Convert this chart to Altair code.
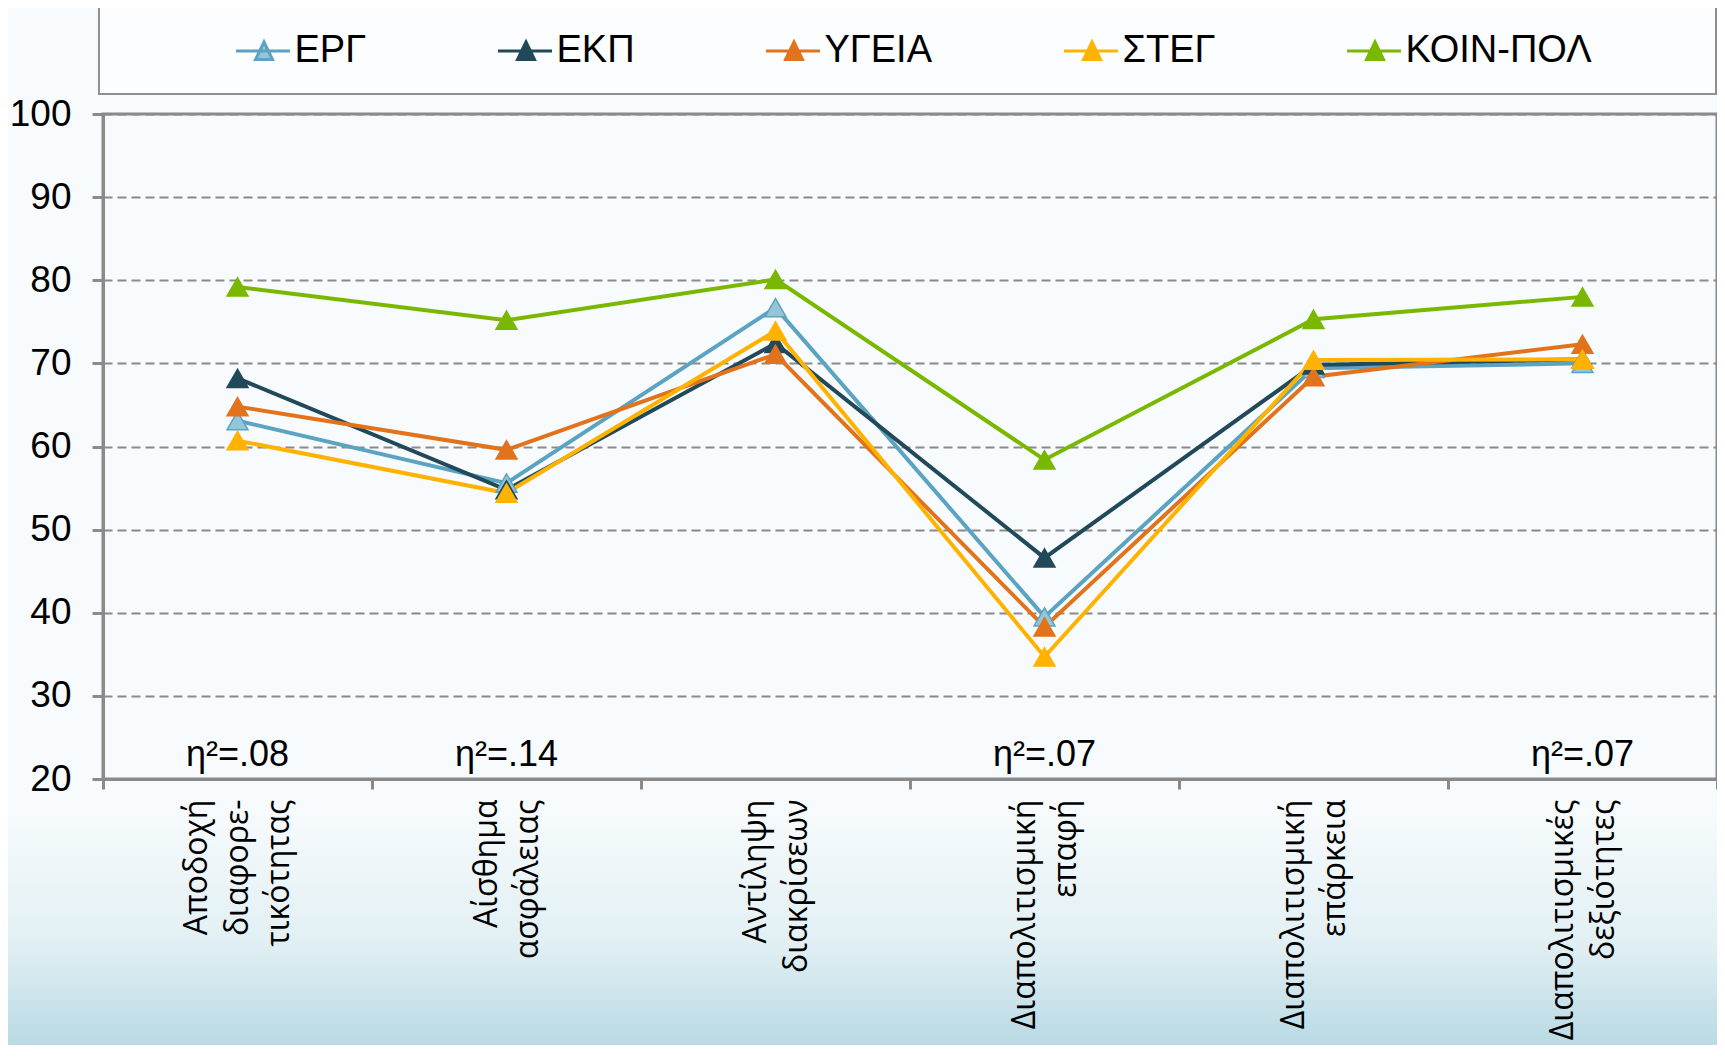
import altair as alt
import pandas as pd

categories = [
    "Αποδοχή\nδιαφορε-\nτικότητας",
    "Αίσθημα\nασφάλειας",
    "Αντίληψη\nδιακρίσεων",
    "Διαπολιτισμική\nεπαφή",
    "Διαπολιτισμική\nεπάρκεια",
    "Διαπολιτισμικές\nδεξιότητες",
]
series = ["ΕΡΓ", "ΕΚΠ", "ΥΓΕΙΑ", "ΣΤΕΓ", "ΚΟΙΝ-ΠΟΛ"]
erg = [63.1, 55.6, 76.7, 39.5, 69.4, 70.0]
ekp = [68.2, 54.8, 72.4, 46.6, 69.8, 70.5]
ygeia = [64.8, 59.6, 71.1, 38.3, 68.4, 72.3]
steg = [60.7, 54.4, 73.9, 34.7, 70.4, 70.5]
koin = [79.2, 75.2, 80.1, 58.4, 75.3, 78.0]
ann_cats = [categories[0], categories[1], categories[3], categories[5]]
ann_texts = ["η²=.08", "η²=.14", "η²=.07", "η²=.07"]
y_ticks = [20, 30, 40, 50, 60, 70, 80, 90, 100]

line_colors = ["#5BA3C1", "#22495A", "#E2731C", "#FFB300", "#7AB800"]
marker_fills = ["#97C5D8", "#22495A", "#E2731C", "#FFB300", "#7AB800"]

rows = []
for s, vals in zip(series, [erg, ekp, ygeia, steg, koin]):
    for c, v in zip(categories, vals):
        rows.append({"cat": c, "series": s, "value": v})
df = pd.DataFrame(rows)
ann = pd.DataFrame({"cat": ann_cats, "text": ann_texts})
one = pd.DataFrame({"k": [0]})

GRAY = "#8a8a8a"
W, H = 1614, 665
LH = 41

x_enc = alt.X(
    "cat:N",
    sort=categories,
    scale=alt.Scale(type="band", domain=categories, paddingInner=0, paddingOuter=0),
    axis=alt.Axis(
        title=None,
        labelAngle=270,
        labelAlign="right",
        labelBaseline={
            "condition": {
                "test": "length(split(datum.value, '\\n')) > 2",
                "value": "line-bottom",
            },
            "value": "middle",
        },
        labelOffset=-LH / 2,
        labelFont="Open Sans",
        labelFontSize=32,
        labelLineHeight=LH,
        labelPadding=10,
        labelLimit=700,
        labelOverlap=False,
        labelColor="black",
        labelExpr="split(datum.label, '\\n')",
        tickBand="extent",
        tickSize=10,
        tickWidth=3,
        tickColor=GRAY,
        domainColor=GRAY,
        domainWidth=3,
        grid=False,
        zindex=1,
    ),
)
y_enc = alt.Y(
    "value:Q",
    scale=alt.Scale(domain=[20, 100], nice=False, zero=False),
    axis=alt.Axis(
        title=None,
        values=y_ticks,
        labelFont="Liberation Sans",
        labelFontSize=37,
        labelPadding=21,
        labelColor="black",
        tickSize=11,
        tickWidth=3,
        tickColor=GRAY,
        domainColor=GRAY,
        domainWidth=3,
        grid=True,
        gridDash=[9, 5],
        gridColor=GRAY,
        gridWidth=2,
    ),
)

legend_path = "M-2.8,0H2.6M0,-0.9L0.85,0.85H-0.85Z"

bg = alt.Chart(one).mark_rect(
    fill=alt.LinearGradient(
        gradient="linear",
        stops=[
            alt.GradientStop(color="#F8FBFD", offset=0),
            alt.GradientStop(color="#E2F0F4", offset=0.55),
            alt.GradientStop(color="#B6D8E3", offset=1),
        ],
        x1=0, x2=0, y1=0, y2=1,
    )
).encode(x=alt.value(-95), x2=alt.value(W), y=alt.value(H + 22), y2=alt.value(H + 275))

legend_box = alt.Chart(one).mark_rect(
    fill="#FBFDFE", stroke="#8f8f8f", strokeWidth=2
).encode(x=alt.value(-4), x2=alt.value(W - 1), y=alt.value(-108), y2=alt.value(-20))

lines = alt.Chart(df).mark_line(strokeWidth=4).encode(
    x=x_enc,
    y=y_enc,
    color=alt.Color(
        "series:N",
        sort=series,
        scale=alt.Scale(domain=series, range=line_colors),
        legend=alt.Legend(
            title=None,
            orient="none",
            legendX=142,
            legendY=-82,
            direction="horizontal",
            columns=5,
            padding=0,
            symbolType=legend_path,
            symbolSize=400,
            symbolStrokeWidth=3,
            labelFont="Liberation Sans",
            labelFontSize=38,
            labelColor="black",
            labelOffset=11.5,
            labelLimit=400,
            columnPadding=125,
        ),
    ),
    detail="series:N",
)

points = alt.Chart(df).mark_point(
    shape="triangle-up", filled=True, size=440, strokeWidth=1.5, opacity=1
).encode(
    x=x_enc,
    y=y_enc,
    fill=alt.Fill("series:N", scale=alt.Scale(domain=series, range=marker_fills), legend=None),
    stroke=alt.Stroke("series:N", scale=alt.Scale(domain=series, range=line_colors), legend=None),
)

texts = alt.Chart(ann).mark_text(
    font="Liberation Sans", fontSize=36, baseline="alphabetic", align="center", color="black"
).encode(x=alt.X("cat:N", sort=categories), y=alt.datum(21.6), text="text:N")

chart = alt.layer(bg, legend_box, lines, points, texts).properties(
    width=W,
    height=H,
    autosize=alt.AutoSizeParams(type="none"),
    padding={"left": 95, "top": 106, "right": 0, "bottom": 266},
    background="#F8FBFD",
).configure_view(stroke=GRAY, strokeWidth=3)

chart.save("out.html", embed_options={"renderer": "svg", "actions": False})
